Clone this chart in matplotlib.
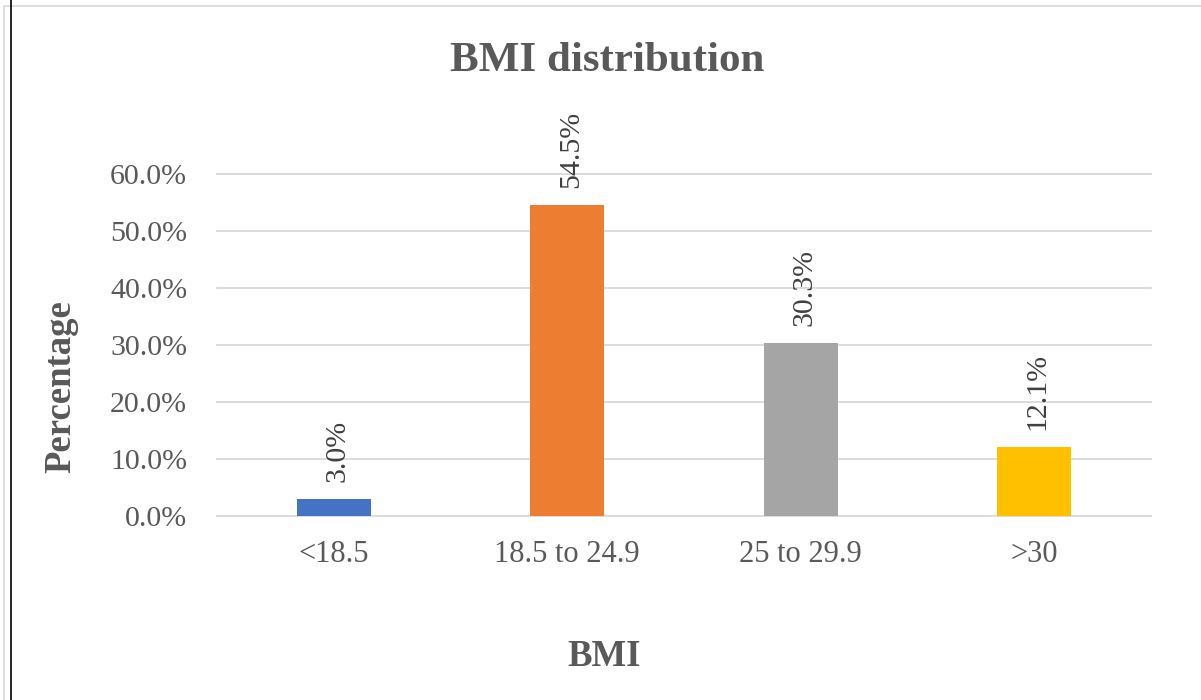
import matplotlib
matplotlib.use("Agg")
import matplotlib.pyplot as plt
from matplotlib.lines import Line2D
from matplotlib.patches import Rectangle

categories = ["<18.5", "18.5 to 24.9", "25 to 29.9", ">30"]
values = [3.0, 54.5, 30.3, 12.1]
colors = ["#4472C4", "#ED7D31", "#A5A5A5", "#FFC000"]
yticks = [0, 10, 20, 30, 40, 50, 60]

plt.rcParams['font.family'] = ['Liberation Serif', 'DejaVu Serif']

W, H = 1201, 700
fig = plt.figure(figsize=(W / 100, H / 100), dpi=100)
fig.patch.set_facecolor("white")

# outer borders
fig.add_artist(Rectangle((4 / W, -0.01), 1.1, 1 - 6 / H + 0.01, transform=fig.transFigure,
                         fill=False, edgecolor="#d9d9d9", linewidth=1.2))
fig.add_artist(Line2D([10.5 / W, 10.5 / W], [0, 1], transform=fig.transFigure,
                      color="black", linewidth=1.2))

left, right = 217 / W, 1151 / W
bottom, top = 1 - 516 / H, 1 - 174 / H
ax = fig.add_axes([left, bottom, right - left, top - bottom])

x = list(range(len(categories)))
ax.bar(x, values, width=0.317, color=colors, zorder=3)
ax.set_xlim(-0.5, len(categories) - 0.5)
ax.set_ylim(0, 60)

for s in ax.spines.values():
    s.set_visible(False)

for t in yticks:
    ax.axhline(t, color="#d9d9d9", linewidth=1.3, zorder=1, clip_on=False)

ax.set_yticks(yticks)
ax.set_yticklabels([f"{t:.1f}%" for t in yticks])
ax.set_xticks(x)
ax.set_xticklabels(categories)
ax.tick_params(axis="y", length=0, pad=21.5, labelsize=21.5, labelcolor="#595959")
ax.tick_params(axis="x", length=0, pad=17, labelsize=22, labelcolor="#595959")

for xi, v in zip(x, values):
    ax.annotate(f"{v:.1f}%", xy=(xi, v), xytext=(2.5, 12.5), textcoords="offset points",
                rotation=90, ha="center", va="bottom", fontsize=21.5, color="#404040",
                zorder=4)

fig.text(607 / W, 1 - 61 / H, "BMI distribution", ha="center", va="center",
         fontsize=31, fontweight="bold", color="#595959")
fig.text(61 / W, 1 - 387 / H, "Percentage", ha="center", va="center", rotation=90,
         fontsize=26.5, fontweight="bold", color="#595959")
fig.text(604 / W, 1 - 656 / H, "BMI", ha="center", va="center",
         fontsize=26.5, fontweight="bold", color="#595959")

fig.savefig("out.png", dpi=100, facecolor="white")
